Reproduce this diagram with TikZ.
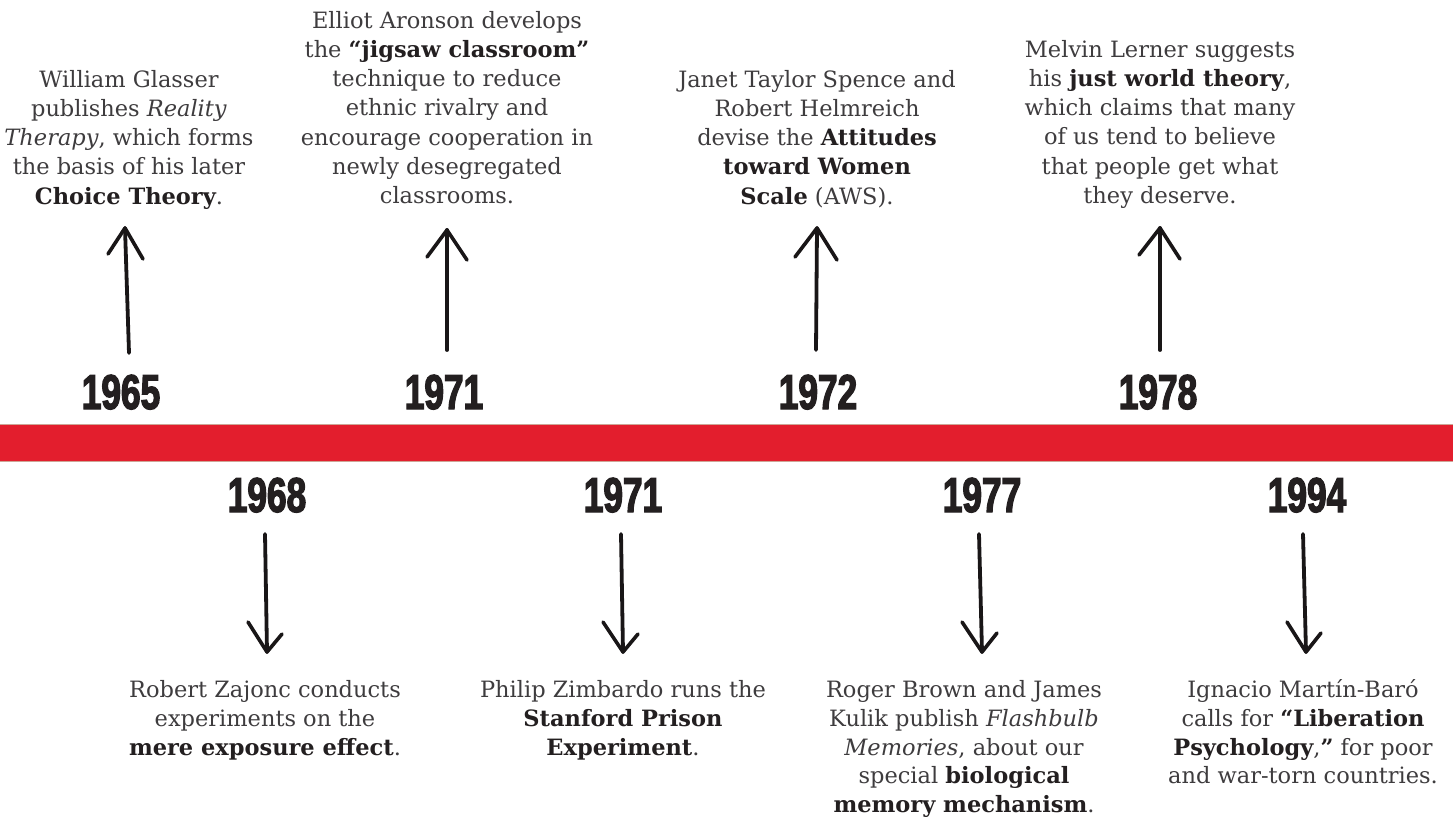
\documentclass[tikz,border=0pt]{standalone}
\usepackage{fontspec}
\usetikzlibrary{calc}
\setmainfont{DejaVu Serif}
\newfontfamily\yearfont[FakeStretch=0.72,FakeBold=2.6]{Liberation Sans Bold}
\definecolor{barred}{RGB}{227,30,45}
\definecolor{baredge}{RGB}{205,165,150}
\definecolor{txt}{RGB}{62,60,62}
\definecolor{boldink}{RGB}{35,31,32}
\definecolor{ink}{RGB}{25,22,23}
\newcommand\bt[1]{\textbf{\color{boldink}#1}}
\tikzset{
  blurb/.style={align=center, inner sep=0pt, anchor=north, text=txt,
    font=\fontsize{22.5pt}{29.2pt}\selectfont},
  lowblurb/.style={blurb, font=\fontsize{22.5pt}{28.6pt}\selectfont},
  yearlbl/.style={anchor=base, inner sep=0pt, text=boldink,
    font=\yearfont\fontsize{49pt}{49pt}\selectfont},
  shaft/.style={draw=ink, line width=3.8pt, line cap=round},
  wing/.style={draw=ink, line width=3.6pt, line cap=round, line join=round},
}
\begin{document}
\begin{tikzpicture}[x=1pt,y=-1pt]
\useasboundingbox (0,0) rectangle (1453,820);
\fill[white] (0,0) rectangle (1453,820);
% timeline bar
\path[fill=barred] (-2,424) rectangle (1455,461);
\draw[baredge, line width=1pt] (-2,424) -- (1455,424);
\draw[baredge, line width=1pt] (-2,461) -- (1455,461);

% years
\node[yearlbl] (y1965) at (121,409) {1965};
\node[yearlbl] (y1971a) at (444,409) {1971};
\node[yearlbl] (y1972) at (818,409) {1972};
\node[yearlbl] (y1978) at (1158,409) {1978};
\node[yearlbl] (y1968) at (267,512) {1968};
\node[yearlbl] (y1971b) at (623,512) {1971};
\node[yearlbl] (y1977) at (982,512) {1977};
\node[yearlbl] (y1994) at (1307,512) {1994};

% upper texts (first baseline minus strut height)
\node[blurb] (t1965) at (129,66.6) {\strut William Glasser\\ publishes \textit{Reality}\\ \textit{Therapy}, which forms\\ the basis of his later\\ \bt{Choice Theory}.};
\node[blurb] (t1971a) at (447,7.6) {\strut Elliot Aronson develops\\ the \bt{“jigsaw classroom”}\\ technique to reduce\\ ethnic rivalry and\\ encourage cooperation in\\ newly desegregated\\ classrooms.};
\node[blurb] (t1972) at (817,66.6) {\strut Janet Taylor Spence and\\ Robert Helmreich\\ devise the \bt{Attitudes}\\ \bt{toward Women}\\ \bt{Scale} (AWS).};
\node[blurb] (t1978) at (1160,36.6) {\strut Melvin Lerner suggests\\ his \bt{just world theory},\\ which claims that many\\ of us tend to believe\\ that people get what\\ they deserve.};

% lower texts
\node[lowblurb] (t1968) at (265,677.6) {\strut Robert Zajonc conducts\\ experiments on the\\ \bt{mere exposure effect}.};
\node[lowblurb] (t1971b) at (623,677.6) {\strut Philip Zimbardo runs the\\ \bt{Stanford Prison}\\ \bt{Experiment}.};
\node[lowblurb] (t1977) at (964,677.6) {\strut Roger Brown and James\\ Kulik publish \textit{Flashbulb}\\ \textit{Memories}, about our\\ special \bt{biological}\\ \bt{memory mechanism}.};
\node[lowblurb] (t1994) at (1303,677.6) {\strut Ignacio Martín-Baró\\ calls for \bt{“Liberation}\\ \bt{Psychology},\bt{”} for poor\\ and war-torn countries.};

% arrow end points
\coordinate (a1t) at (129,353); \coordinate (a1h) at (125,228);
\coordinate (a2t) at (447,350); \coordinate (a2h) at (447,230);
\coordinate (a3t) at (816,350); \coordinate (a3h) at (817,228);
\coordinate (a4t) at (1160,350); \coordinate (a4h) at (1160,228);
\coordinate (b1t) at (265,534); \coordinate (b1h) at (267,652);
\coordinate (b2t) at (621,534); \coordinate (b2h) at (623,652);
\coordinate (b3t) at (979,534); \coordinate (b3h) at (982,652);
\coordinate (b4t) at (1303,534); \coordinate (b4h) at (1306,652);

% up arrows
\draw[shaft] (a1t) -- (a1h);
\draw[wing] ($(a1h)+(-17,26)$) -- (a1h) -- ($(a1h)+(18,31)$);
\draw[shaft] (a2t) -- (a2h);
\draw[wing] ($(a2h)+(-20,27)$) -- (a2h) -- ($(a2h)+(20,30)$);
\draw[shaft] (a3t) -- (a3h);
\draw[wing] ($(a3h)+(-22,29)$) -- (a3h) -- ($(a3h)+(20,32)$);
\draw[shaft] (a4t) -- (a4h);
\draw[wing] ($(a4h)+(-21,27)$) -- (a4h) -- ($(a4h)+(20,31)$);

% down arrows
\draw[shaft] (b1t) -- (b1h);
\draw[wing] ($(b1h)+(-19,-30)$) -- (b1h) -- ($(b1h)+(15,-18)$);
\draw[shaft] (b2t) -- (b2h);
\draw[wing] ($(b2h)+(-20,-30)$) -- (b2h) -- ($(b2h)+(15,-18)$);
\draw[shaft] (b3t) -- (b3h);
\draw[wing] ($(b3h)+(-20,-30)$) -- (b3h) -- ($(b3h)+(15,-19)$);
\draw[shaft] (b4t) -- (b4h);
\draw[wing] ($(b4h)+(-19,-30)$) -- (b4h) -- ($(b4h)+(15,-19)$);
\end{tikzpicture}
\end{document}
